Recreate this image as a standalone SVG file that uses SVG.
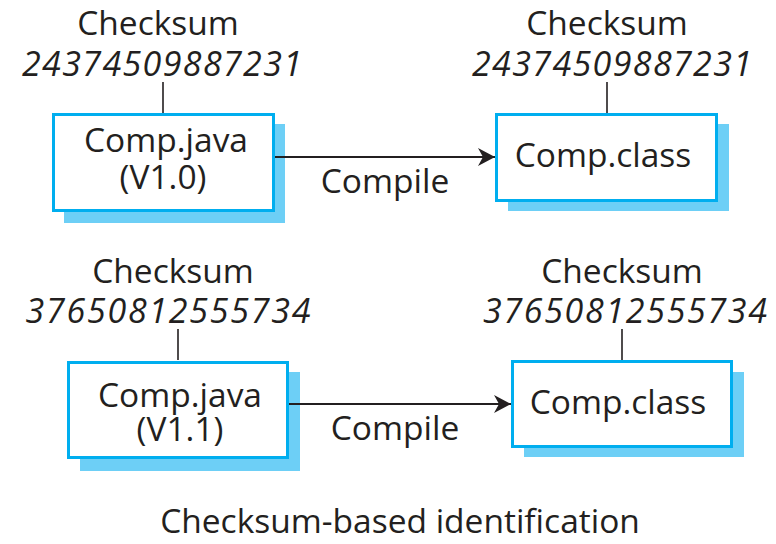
<svg xmlns="http://www.w3.org/2000/svg" width="776" height="544" viewBox="0 0 776 544">
  <defs>
    <style>
      .shadow { fill: #6dcff6; }
      .box { fill: #ffffff; stroke: #00aeef; stroke-width: 3; }
      .lbl { font-family: "Open Sans", "Liberation Sans", sans-serif; font-size: 33.5px; fill: #231f20; text-anchor: middle; }
      .num { font-family: "Open Sans", "Liberation Sans", sans-serif; font-size: 34px; font-style: italic; fill: #231f20; text-anchor: middle; }
      .tick { stroke: #231f20; stroke-width: 1.6; fill: none; }
      .flow { stroke: #231f20; stroke-width: 1.8; fill: none; marker-end: url(#arrow); }
    </style>
    <marker id="arrow" markerUnits="userSpaceOnUse" viewBox="-18 -10 19 20" refX="0" refY="0" markerWidth="19" markerHeight="20" orient="auto">
      <path d="M0,0 L-17,-9 L-12,0 L-17,9 Z" fill="#231f20"/>
    </marker>
  </defs>

  <rect width="776" height="544" fill="#ffffff"/>

  <!-- source, version 1.0 -->
  <g id="java-v10">
    <text class="lbl" x="158" y="35">Checksum</text>
    <text class="num" x="162" y="76" textLength="280" lengthAdjust="spacing">24374509887231</text>
    <line class="tick" x1="163" y1="82" x2="163" y2="113"/>
    <rect class="shadow" x="64" y="124" width="221" height="99"/>
    <rect class="box" x="53.5" y="114.5" width="220" height="96"/>
    <text class="lbl" x="166" y="152">Comp.java</text>
    <text class="lbl" x="163" y="189">(V1.0)</text>
  </g>

  <!-- compiled class from version 1.0 -->
  <g id="class-v10">
    <text class="lbl" x="607" y="35">Checksum</text>
    <text class="num" x="612" y="76" textLength="280" lengthAdjust="spacing">24374509887231</text>
    <line class="tick" x1="607" y1="82" x2="607" y2="113"/>
    <rect class="shadow" x="508" y="124" width="221" height="87"/>
    <rect class="box" x="496.5" y="114.5" width="220" height="86"/>
    <text class="lbl" x="603" y="167">Comp.class</text>
  </g>

  <!-- source, version 1.1 -->
  <g id="java-v11">
    <text class="lbl" x="173" y="283">Checksum</text>
    <text class="num" x="168" y="323" textLength="285" lengthAdjust="spacing">37650812555734</text>
    <line class="tick" x1="178" y1="329" x2="178" y2="360"/>
    <rect class="shadow" x="80" y="372" width="220" height="99"/>
    <rect class="box" x="68.5" y="362.5" width="219" height="95"/>
    <text class="lbl" x="180" y="407">Comp.java</text>
    <text class="lbl" x="180" y="441">(V1.1)</text>
  </g>

  <!-- compiled class from version 1.1 -->
  <g id="class-v11">
    <text class="lbl" x="622" y="283">Checksum</text>
    <text class="num" x="625" y="323" textLength="284" lengthAdjust="spacing">37650812555734</text>
    <line class="tick" x1="622" y1="329" x2="622" y2="360"/>
    <rect class="shadow" x="524" y="372" width="220" height="85"/>
    <rect class="box" x="512.5" y="361.5" width="219" height="85"/>
    <text class="lbl" x="618" y="414">Comp.class</text>
  </g>

  <!-- compile steps -->
  <g id="connectors">
    <line class="flow" x1="275" y1="157" x2="495" y2="157"/>
    <text class="lbl" x="385" y="193">Compile</text>
    <line class="flow" x1="289" y1="404" x2="511" y2="404"/>
    <text class="lbl" x="395" y="440">Compile</text>
  </g>

  <text class="lbl" x="400" y="533">Checksum-based identification</text>
</svg>
